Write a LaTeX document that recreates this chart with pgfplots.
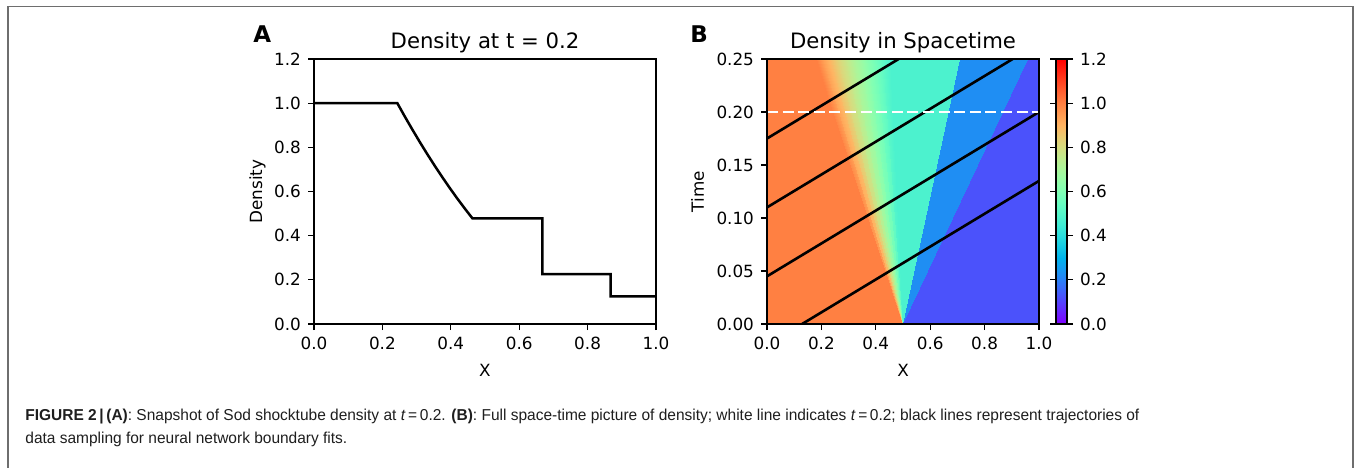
\documentclass[border=0pt]{standalone}
\usepackage{fontspec}
\setmainfont{DejaVu Sans}
\newfontfamily\capfont[FakeStretch=0.98]{Liberation Sans}
\usepackage{pgfplots}
\pgfplotsset{compat=1.18}
\definecolor{capgray}{RGB}{30,30,30}
\definecolor{boxgray}{RGB}{110,110,110}
\pgfplotsset{
  colormap={mplrainbow}{
    rgb255=(128,0,255) rgb255=(106,33,254) rgb255=(85,66,253) rgb255=(64,98,250)
    rgb255=(43,128,246) rgb255=(21,155,241) rgb255=(0,180,236) rgb255=(21,202,229)
    rgb255=(43,221,221) rgb255=(64,236,212) rgb255=(85,246,202) rgb255=(106,253,192)
    rgb255=(128,255,180) rgb255=(149,253,168) rgb255=(170,246,155) rgb255=(191,236,142)
    rgb255=(213,221,128) rgb255=(234,202,113) rgb255=(255,180,98) rgb255=(255,155,82)
    rgb255=(255,128,66) rgb255=(255,98,50) rgb255=(255,66,33) rgb255=(255,33,17)
    rgb255=(255,0,0)},
  mpl/.style={
    scale only axis,
    axis line style={line width=0.6pt},
    every tick/.style={black, line width=0.6pt},
    tick align=outside,
    major tick length=3pt,
    xtick pos=left, ytick pos=left,
    scaled ticks=false,
    /pgf/number format/assume math mode=true,
    tick label style={font=\fontsize{8.4}{10}\selectfont},
    label style={font=\fontsize{8.4}{10}\selectfont},
    every axis title/.style={font=\fontsize{10.6}{12}\selectfont, at={(axis description cs:0.5,1)}, anchor=base, yshift=5.4pt},
    x tick label style={/pgf/number format/.cd, fixed, fixed zerofill, precision=1, /tikz/.cd},
    xmin=0, xmax=1,
    xtick={0,0.2,0.4,0.6,0.8,1.0},
    height=132.5pt,
  }
}
\begin{document}
\begin{tikzpicture}
\path[use as bounding box] (0,0) rectangle (678pt,-233.5pt);
\draw[boxgray, line width=0.6pt] (4pt,-234pt) -- (4pt,-3.2pt) -- (676.5pt,-3.2pt) -- (676.5pt,-234pt);

% Panel A
\begin{axis}[mpl,
  at={(157pt,-162pt)}, anchor=south west, width=171pt,
  ymin=0, ymax=1.2,
  ytick={0,0.2,0.4,0.6,0.8,1.0,1.2},
  y tick label style={/pgf/number format/.cd, fixed, fixed zerofill, precision=1, /tikz/.cd},
  title={Density at t = 0.2},
  xlabel={X}, ylabel={Density},
  xlabel style={at={(axis description cs:0.5,0)}, anchor=center, yshift=-23.2pt},
  ylabel style={at={(axis description cs:-0.1652,0.5)}, anchor=center},
]
\addplot[black, line width=1.25pt, line join=miter] coordinates {
 (0,1.0) (0.2437,1.0) (0.2656,0.9393) (0.2876,0.8806) (0.3095,0.8237) (0.3314,0.7688)
 (0.3534,0.7157) (0.3753,0.6646) (0.3972,0.6153) (0.4191,0.5679) (0.4411,0.5224)
 (0.4630,0.4789) (0.6680,0.4789) (0.6680,0.2264) (0.8675,0.2264) (0.8675,0.125) (1.0,0.125)};
\end{axis}

% Panel B
\begin{axis}[mpl,
  at={(383.5pt,-162pt)}, anchor=south west, width=136pt,
  ymin=0, ymax=0.25,
  ytick={0,0.05,0.10,0.15,0.20,0.25},
  y tick label style={/pgf/number format/.cd, fixed, fixed zerofill, precision=2, /tikz/.cd},
  title={Density in Spacetime},
  xlabel={X}, ylabel={Time},
  xlabel style={at={(axis description cs:0.5,0)}, anchor=center, yshift=-23.2pt},
  ylabel style={at={(axis description cs:-0.2555,0.5)}, anchor=center},
  colormap name=mplrainbow,
  point meta min=0, point meta max=1.2,
  axis on top,
  colorbar,
  colorbar style={
    scale only axis, width=5.5pt, height=132.5pt,
    at={(parent axis.north east)}, anchor=north west,
    ytick={0,0.2,0.4,0.6,0.8,1.0,1.2},
    axis line style={line width=0.6pt},
    every tick/.style={black, line width=0.6pt},
    tick align=outside, major tick length=3pt,
    /pgf/number format/assume math mode=true,
    yticklabel style={font=\fontsize{8.4}{10}\selectfont, /pgf/number format/.cd, fixed, fixed zerofill, precision=1, /tikz/.cd},
  },
]
\addplot[patch, patch type=rectangle, shader=interp, point meta=explicit] table[meta=c] {
x y c
0 0 1.0
0.5 0 1.0
0.1796 0.25 1.0
0 0.25 1.0
0.5 0 1.0
0.5 0 0.9393
0.2070 0.25 0.9393
0.1796 0.25 1.0
0.5 0 0.9393
0.5 0 0.8806
0.2344 0.25 0.8806
0.2070 0.25 0.9393
0.5 0 0.8806
0.5 0 0.8237
0.2619 0.25 0.8237
0.2344 0.25 0.8806
0.5 0 0.8237
0.5 0 0.7688
0.2893 0.25 0.7688
0.2619 0.25 0.8237
0.5 0 0.7688
0.5 0 0.7157
0.3167 0.25 0.7157
0.2893 0.25 0.7688
0.5 0 0.7157
0.5 0 0.6646
0.3441 0.25 0.6646
0.3167 0.25 0.7157
0.5 0 0.6646
0.5 0 0.6153
0.3715 0.25 0.6153
0.3441 0.25 0.6646
0.5 0 0.6153
0.5 0 0.5679
0.3989 0.25 0.5679
0.3715 0.25 0.6153
0.5 0 0.5679
0.5 0 0.5224
0.4263 0.25 0.5224
0.3989 0.25 0.5679
0.5 0 0.5224
0.5 0 0.4789
0.4538 0.25 0.4789
0.4263 0.25 0.5224
0.5 0 0.4789
0.5 0 0.4789
0.7100 0.25 0.4789
0.4538 0.25 0.4789
0.5 0 0.2264
0.5 0 0.2264
0.9594 0.25 0.2264
0.7100 0.25 0.2264
0.5 0 0.125
1.0 0 0.125
1.0 0.25 0.125
0.9594 0.25 0.125
};
\addplot[black, line width=1.3pt] coordinates {(0,0.175) (0.4839,0.25)};
\addplot[black, line width=1.3pt] coordinates {(0,0.110) (0.9032,0.25)};
\addplot[black, line width=1.3pt] coordinates {(0,0.045) (1.0,0.200)};
\addplot[black, line width=1.3pt] coordinates {(0.129,0) (1.0,0.135)};
\addplot[white, line width=1.4pt, dash pattern=on 5.5pt off 2.3pt] coordinates {(0,0.2) (1,0.2)};
\end{axis}

\node[anchor=base west, inner sep=0, font=\fontsize{11.5}{13}\selectfont\bfseries] at (126.5pt,-21pt) {A};
\node[anchor=base west, inner sep=0, font=\fontsize{11.5}{13}\selectfont\bfseries] at (345pt,-21pt) {B};

\node[anchor=base west, inner sep=0, text=capgray, font=\capfont\fontsize{7.9}{10}\selectfont] at (12.5pt,-210pt)
 {\textbf{FIGURE 2\,|\,(A)}: Snapshot of Sod shocktube density at \textit{t}\,=\,0.2. \textbf{(B)}: Full space-time picture of density; white line indicates \textit{t}\,=\,0.2; black lines represent trajectories of};
\node[anchor=base west, inner sep=0, text=capgray, font=\capfont\fontsize{7.9}{10}\selectfont] at (12.5pt,-221.5pt)
 {data sampling for neural network boundary fits.};
\end{tikzpicture}
\end{document}
